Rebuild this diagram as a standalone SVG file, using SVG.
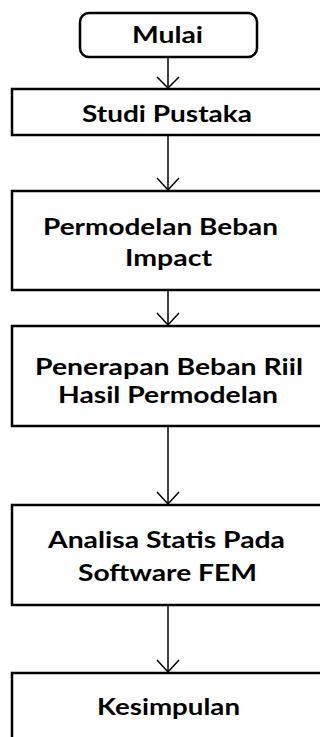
<svg xmlns="http://www.w3.org/2000/svg" width="320" height="737" viewBox="0 0 320 737">
<style>
.box{fill:#fff;stroke:#000;stroke-width:2.5}
.t{font-family:Lato,"Open Sans",sans-serif;font-weight:700;font-size:23px;text-anchor:middle;fill:#000}
.c{stroke:#000;stroke-width:1.5;fill:none}
</style>
<rect width="320" height="737" fill="#fff"/>
<g id="connectors">
<line class="c" x1="168" y1="57" x2="168" y2="89"/>
<path class="c" d="M157,77 L168,88 L179,77"/>
<line class="c" x1="168" y1="135" x2="168" y2="191"/>
<path class="c" d="M157,178 L168,190 L179,178"/>
<line class="c" x1="168" y1="290" x2="168" y2="326"/>
<path class="c" d="M157,313 L168,325 L179,313"/>
<line class="c" x1="168" y1="426" x2="168" y2="505"/>
<path class="c" d="M157,492 L168,504 L179,492"/>
<line class="c" x1="168" y1="605" x2="168" y2="673"/>
<path class="c" d="M157,660 L168,672 L179,660"/>
</g>
<g id="mulai">
<rect class="box" x="80" y="13" width="177" height="44" rx="9"/>
<text class="t" x="167.5" y="43" textLength="71" lengthAdjust="spacingAndGlyphs">Mulai</text>
</g>
<g id="studi-pustaka">
<rect class="box" x="12" y="89" width="313" height="46"/>
<text class="t" x="167" y="122" textLength="170" lengthAdjust="spacingAndGlyphs">Studi Pustaka</text>
</g>
<g id="permodelan">
<rect class="box" x="12" y="191" width="313" height="99"/>
<text class="t" x="160.5" y="235" textLength="235" lengthAdjust="spacingAndGlyphs">Permodelan Beban</text>
<text class="t" x="168.5" y="266" textLength="87" lengthAdjust="spacingAndGlyphs">Impact</text>
</g>
<g id="penerapan">
<rect class="box" x="12" y="326" width="313" height="100"/>
<text class="t" x="169" y="375" textLength="268" lengthAdjust="spacingAndGlyphs">Penerapan Beban Riil</text>
<text class="t" x="168" y="403" textLength="220" lengthAdjust="spacingAndGlyphs">Hasil Permodelan</text>
</g>
<g id="analisa">
<rect class="box" x="12" y="505" width="313" height="100"/>
<text class="t" x="166.5" y="548" textLength="237" lengthAdjust="spacingAndGlyphs">Analisa Statis Pada</text>
<text class="t" x="167.5" y="581" textLength="179" lengthAdjust="spacingAndGlyphs">Software FEM</text>
</g>
<g id="kesimpulan">
<rect class="box" x="12" y="673" width="313" height="80"/>
<text class="t" x="168.5" y="715" textLength="143" lengthAdjust="spacingAndGlyphs">Kesimpulan</text>
</g>
</svg>
